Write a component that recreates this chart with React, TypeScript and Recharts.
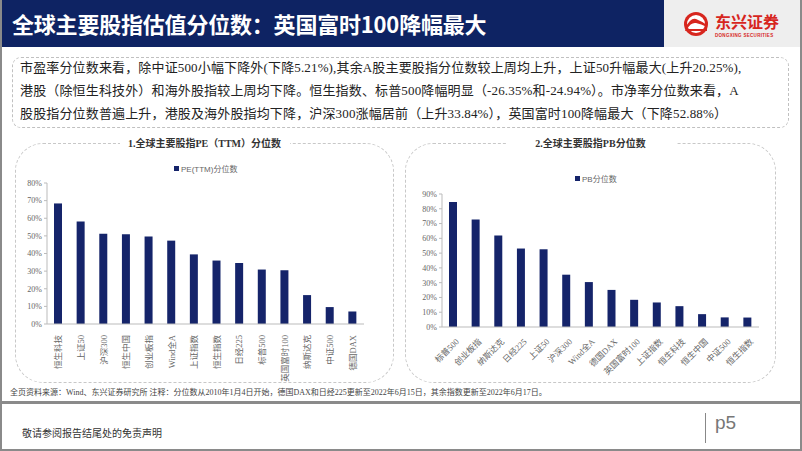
import React from "react";
import { Bar, BarChart, XAxis, YAxis } from "recharts";

const peNames = ["恒生科技", "上证50", "沪深300", "恒生中国", "创业板指", "Wind全A", "上证指数", "恒生指数", "日经225", "标普500", "英国富时100", "纳斯达克", "中证500", "德国DAX"];
const peValues = [68.4, 58.1, 51.2, 50.9, 49.6, 47.3, 39.5, 36.0, 34.6, 30.9, 30.5, 16.4, 9.6, 7.1];
const peTicks = [0, 10, 20, 30, 40, 50, 60, 70, 80];

const pbNames = ["标普500", "创业板指", "纳斯达克", "日经225", "上证50", "沪深300", "Wind全A", "德国DAX", "英国富时100", "上证指数", "恒生科技", "恒生中国", "中证500", "恒生指数"];
const pbValues = [84.6, 72.8, 62.0, 53.1, 52.6, 35.4, 30.4, 25.1, 18.4, 16.6, 14.1, 8.7, 6.5, 6.4];
const pbTicks = [0, 10, 20, 30, 40, 50, 60, 70, 80, 90];

const bodyLines = [
  "市盈率分位数来看，除中证500小幅下降外(下降5.21%),其余A股主要股指分位数较上周均上升，上证50升幅最大(上升20.25%),",
  "港股（除恒生科技外）和海外股指较上周均下降。恒生指数、标普500降幅明显（-26.35%和-24.94%）。市净率分位数来看，A",
  "股股指分位数普遍上升，港股及海外股指均下降，沪深300涨幅居前（上升33.84%），英国富时100降幅最大（下降52.88%）",
];

const NAVY = "#0e2363";
const BAR = "#15246a";
const SERIF = '"Liberation Serif", "Noto Sans CJK SC", serif';
const SANS = '"Liberation Sans", "Noto Sans CJK SC", sans-serif';

const peData = peNames.map((name, i) => ({ name, value: peValues[i] }));
const pbData = pbNames.map((name, i) => ({ name, value: pbValues[i] }));

function VerticalTick(props: any) {
  const { x, y, payload } = props;
  const ty = y + 3;
  return (
    <text
      x={x}
      y={ty}
      transform={`rotate(-90 ${x} ${ty})`}
      textAnchor="end"
      dominantBaseline="central"
      fontSize={8.5}
      fontFamily={SERIF}
      fill="#666"
    >
      {payload.value}
    </text>
  );
}

function SlantTick(props: any) {
  const { x, y, payload } = props;
  const tx = x + 4;
  const ty = y + 5;
  return (
    <text
      x={tx}
      y={ty}
      transform={`rotate(-45 ${tx} ${ty})`}
      textAnchor="end"
      dominantBaseline="central"
      fontSize={8.5}
      fontFamily={SERIF}
      fill="#666"
    >
      {payload.value}
    </text>
  );
}

const yTickStyle = { fontSize: 8, fontFamily: SERIF, fill: "#666" };

function Panel({ left, width, title }: { left: number; width: number; title: string }) {
  return (
    <>
      <div
        style={{
          position: "absolute",
          left,
          top: 143,
          width,
          height: 240,
          border: "1px dashed #c8c8c8",
          borderRadius: 28,
          boxSizing: "border-box",
        }}
      />
      <div
        style={{
          position: "absolute",
          left: left + width / 2 - 85,
          top: 136,
          width: 170,
          textAlign: "center",
          background: "#fff",
          fontFamily: SERIF,
          fontSize: 10,
          fontWeight: 700,
          color: "#333",
          lineHeight: "16px",
        }}
      >
        {title}
      </div>
    </>
  );
}

function LegendKey({ left, top, label }: { left: number; top: number; label: string }) {
  return (
    <div
      style={{
        position: "absolute",
        left,
        top,
        fontFamily: SANS,
        fontSize: 8,
        color: "#666",
        display: "flex",
        alignItems: "center",
        whiteSpace: "nowrap",
      }}
    >
      <span style={{ width: 5, height: 5, background: BAR, display: "inline-block", marginRight: 2 }} />
      {label}
    </div>
  );
}

export default function App() {
  return (
    <div
      style={{
        position: "absolute",
        left: 0,
        top: 0,
        width: 802,
        height: 451,
        background: "#fff",
        overflow: "hidden",
        boxSizing: "border-box",
        border: "2px solid #8a8a8a",
        borderTop: "none",
      }}
    >
      {/* header */}
      <div style={{ position: "absolute", left: 0, top: 0, width: 662, height: 47, background: NAVY }} />
      <div
        style={{
          position: "absolute",
          left: 10,
          top: 8,
          color: "#fff",
          fontFamily: '"Noto Sans CJK SC", sans-serif',
          fontWeight: 700,
          fontSize: 22,
          lineHeight: "30px",
          whiteSpace: "nowrap",
          letterSpacing: -0.2,
        }}
      >
        全球主要股指估值分位数：英国富时100降幅最大
      </div>
      <div style={{ position: "absolute", left: 662, top: 0, width: 140, height: 47, background: "#eeeeee" }} />
      <svg style={{ position: "absolute", left: 662, top: 0 }} width={140} height={47}>
        <circle cx={32} cy={24} r={12} fill="#d7261e" />
        <circle cx={32} cy={24} r={9} fill="#fff" />
        <path d="M21 28 Q27 17 32 19 Q37 21 43 25 L43 27 Q37 24 32 23 Q27 22 23 29 Z" fill="#d7261e" />
        <path d="M21 31 L43 31 L43 29 L22 29 Z" fill="#d7261e" />
        <text x={51} y={28} fontSize={16} fontWeight={700} fill="#d7261e" fontFamily='"Noto Sans CJK SC", sans-serif'>
          东兴证券
        </text>
        <text x={51} y={37} fontSize={4.5} fontWeight={700} fill="#d7261e" fontFamily={SANS} letterSpacing={0.3}>
          DONGXING SECURITIES
        </text>
      </svg>

      {/* summary box */}
      <div
        style={{
          position: "absolute",
          left: 10,
          top: 57,
          width: 777,
          height: 71,
          border: "1px dashed #c0c0c0",
          borderRadius: 9,
          boxSizing: "border-box",
        }}
      />
      {bodyLines.map((line, i) => (
        <div
          key={i}
          style={{
            position: "absolute",
            left: 18,
            top: 57 + i * 23,
            fontFamily: SERIF,
            fontSize: 13,
            lineHeight: "22px",
            color: "#222",
            whiteSpace: "nowrap",
            letterSpacing: 0.15,
          }}
        >
          {line}
        </div>
      ))}

      {/* panels */}
      <Panel left={13} width={379} title="1.全球主要股指PE（TTM）分位数" />
      <Panel left={403} width={371} title="2.全球主要股指PB分位数" />
      <LegendKey left={172} top={163} label="PE(TTM)分位数" />
      <LegendKey left={573} top={173} label="PB分位数" />

      <div style={{ position: "absolute", left: 10, top: 150 }}>
        <BarChart width={370} height={240} data={peData} margin={{ top: 33, right: 18, bottom: 0, left: 0 }}>
          <YAxis
            width={35}
            domain={[0, 80]}
            ticks={peTicks}
            tickFormatter={(v: number) => `${v}%`}
            tick={yTickStyle}
            stroke="#bbb"
            tickSize={3}
            interval={0}
          />
          <XAxis
            dataKey="name"
            height={66}
            interval={0}
            tick={<VerticalTick />}
            tickLine={false}
            stroke="#bbb"
          />
          <Bar dataKey="value" barSize={8} fill={BAR} isAnimationActive={false} />
        </BarChart>
      </div>

      <div style={{ position: "absolute", left: 400, top: 150 }}>
        <BarChart width={375} height={230} data={pbData} margin={{ top: 44, right: 18, bottom: 0, left: 0 }}>
          <YAxis
            width={40}
            domain={[0, 90]}
            ticks={pbTicks}
            tickFormatter={(v: number) => `${v}%`}
            tick={yTickStyle}
            stroke="#bbb"
            tickSize={3}
            interval={0}
          />
          <XAxis
            dataKey="name"
            height={53}
            interval={0}
            tick={<SlantTick />}
            tickLine={false}
            stroke="#bbb"
          />
          <Bar dataKey="value" barSize={8} fill={BAR} isAnimationActive={false} />
        </BarChart>
      </div>

      {/* source */}
      <div
        style={{
          position: "absolute",
          left: 8,
          top: 386,
          fontFamily: SERIF,
          fontSize: 8,
          color: "#444",
          whiteSpace: "nowrap",
        }}
      >
        全页资料来源：Wind、东兴证券研究所 注释：分位数从2010年1月4日开始，德国DAX和日经225更新至2022年6月15日，其余指数更新至2022年6月17日。
      </div>
      <div style={{ position: "absolute", left: 0, top: 401, width: 802, height: 3, background: "#8a8a8a" }} />

      {/* footer */}
      <div
        style={{
          position: "absolute",
          left: 20,
          top: 425,
          fontFamily: SERIF,
          fontSize: 10,
          color: "#333",
          whiteSpace: "nowrap",
        }}
      >
        敬请参阅报告结尾处的免责声明
      </div>
      <div style={{ position: "absolute", left: 703, top: 413, width: 1, height: 30, background: "#888" }} />
      <div
        style={{
          position: "absolute",
          left: 713,
          top: 412,
          fontFamily: SANS,
          fontSize: 19,
          color: "#777",
        }}
      >
        p5
      </div>
    </div>
  );
}
